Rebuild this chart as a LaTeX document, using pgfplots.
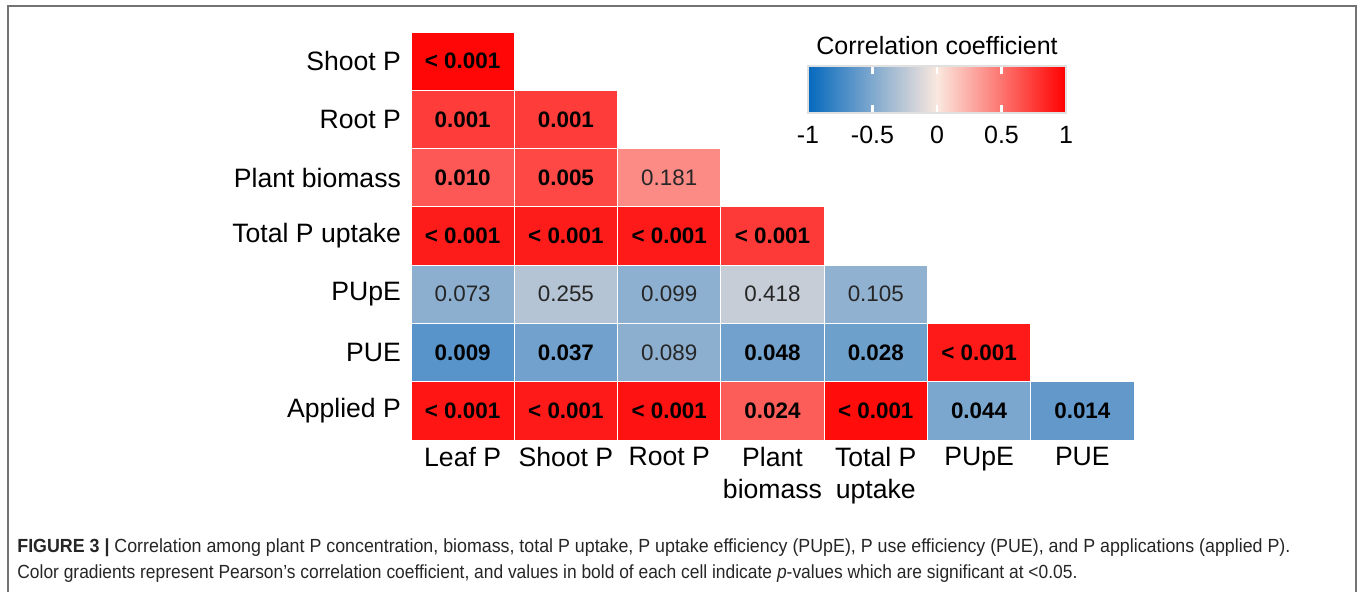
\documentclass[border=0pt]{standalone}
\usepackage{fontspec}
\setmainfont{Liberation Sans}
\usepackage{graphicx}
\usepackage{pgfplots}
\pgfplotsset{compat=1.18}
\usepackage{pgfplotstable}
\usetikzlibrary{calc}

\pgfplotsset{colormap={corr}{rgb255(0cm)=(5,105,190); rgb255(1cm)=(250,232,222); rgb255(2cm)=(255,0,0)}}

% x: column (1 Leaf P ... 7 PUE), y: row (1 Applied P ... 7 Shoot P), r: correlation
\pgfplotstableread{
x y r
1 7 0.97
1 6 0.74
2 6 0.74
1 5 0.62
2 5 0.69
3 5 0.40
1 4 0.88
2 4 0.88
3 4 0.89
4 4 0.75
1 3 -0.45
2 3 -0.28
3 3 -0.44
4 3 -0.21
5 3 -0.43
1 2 -0.66
2 2 -0.56
3 2 -0.45
4 2 -0.56
5 2 -0.57
6 2 0.89
1 1 0.91
2 1 0.89
3 1 0.92
4 1 0.60
5 1 0.95
6 1 -0.52
7 1 -0.62
}\cells

\pgfplotstableread[col sep=comma]{
x,y,lab
1,7,< 0.001
1,6,0.001
2,6,0.001
1,5,0.010
2,5,0.005
1,4,< 0.001
2,4,< 0.001
3,4,< 0.001
4,4,< 0.001
1,2,0.009
2,2,0.037
4,2,0.048
5,2,0.028
6,2,< 0.001
1,1,< 0.001
2,1,< 0.001
3,1,< 0.001
4,1,0.024
5,1,< 0.001
6,1,0.044
7,1,0.014
}\sig

\pgfplotstableread[col sep=comma]{
x,y,lab
3,5,0.181
1,3,0.073
2,3,0.255
3,3,0.099
4,3,0.418
5,3,0.105
3,2,0.089
}\nonsig

\begin{document}
\begin{tikzpicture}
\useasboundingbox (0,0) rectangle (680pt,296pt);
\fill[white] (0,0) rectangle (680pt,296pt);
\draw[line width=1pt, black!55] (3.75pt,-5pt) -- (3.75pt,293pt) -- (678pt,293pt) -- (678pt,-5pt);
\begin{axis}[
  at={(205.5pt,76pt)}, anchor=south west,
  scale only axis, width=361.5pt, height=204pt,
  xmin=0.5, xmax=7.5, ymin=0.5, ymax=7.5,
  clip=false,
  axis line style={draw=none}, major tick length=0pt,
  xtick={1,2,3,4,5,6,7}, ytick={1,2,3,4,5,6,7},
  xticklabels={Leaf P, Shoot P, Root P, {Plant\\biomass}, {Total P\\uptake}, PUpE, PUE},
  yticklabels={Applied P, PUE, PUpE, Total P uptake, Plant biomass, Root P, Shoot P},
  xticklabel style={align=center, font=\fontsize{13.3}{16}\selectfont, text=black},
  yticklabel style={font=\fontsize{13.3}{16}\selectfont, text=black, xshift=-1.5pt},
  colormap name=corr, point meta min=-1, point meta max=1,
  colorbar horizontal,
  colorbar/width=23.5pt,
  colorbar style={
    at={($(parent axis.north west)+(198.5pt,-8.5pt)$)}, anchor=north west,
    scale only axis, width=129pt, height=23.5pt,
    xtick={-0.5,0,0.5}, xticklabels={-0.5,0,0.5},
    extra x ticks={-1,1}, extra x tick labels={-1,1},
    extra x tick style={major tick length=0pt},
    xtick pos=both, xtick align=inside,
    major tick length=4pt,
    xtick style={draw=white, line width=1.2pt},
    axis line style={draw=black!12, line width=0.6pt},
    xticklabel style={font=\fontsize{12.5}{15}\selectfont, text=black, yshift=-3pt},
    title={Correlation coefficient},
    title style={font=\fontsize{12.5}{15}\selectfont, text=black, yshift=-4pt},
  },
]
\addplot[scatter, only marks, mark=square*, mark size=14.5714pt,
  point meta=explicit,
  scatter/use mapped color={draw=white, fill=mapped color},
  mark options={xscale=1.7721, line width=0.4pt}]
  table[x=x, y=y, meta=r] {\cells};
\addplot[draw=none, mark=none, nodes near coords, point meta=explicit symbolic,
  every node near coord/.append style={anchor=center, text=black,
    font=\bfseries\fontsize{11.2}{13}\selectfont}]
  table[x=x, y=y, meta=lab] {\sig};
\addplot[draw=none, mark=none, nodes near coords, point meta=explicit symbolic,
  every node near coord/.append style={anchor=center, text=black!85,
    font=\fontsize{11.2}{13}\selectfont}]
  table[x=x, y=y, meta=lab] {\nonsig};
\end{axis}
\node[anchor=base west, inner sep=0, font=\fontsize{9.5}{11}\selectfont, text=black!85] at (8.5pt,19.5pt)
  {\resizebox{636.5pt}{\height}{\textbf{FIGURE 3 |} Correlation among plant P concentration, biomass, total P uptake, P uptake efficiency (PUpE), P use efficiency (PUE), and P applications (applied P).}};
\node[anchor=base west, inner sep=0, font=\fontsize{9.5}{11}\selectfont, text=black!85] at (8.5pt,6.5pt)
  {\resizebox{530pt}{\height}{Color gradients represent Pearson’s correlation coefficient, and values in bold of each cell indicate \textit{p}-values which are significant at <0.05.}};
\end{tikzpicture}
\end{document}
